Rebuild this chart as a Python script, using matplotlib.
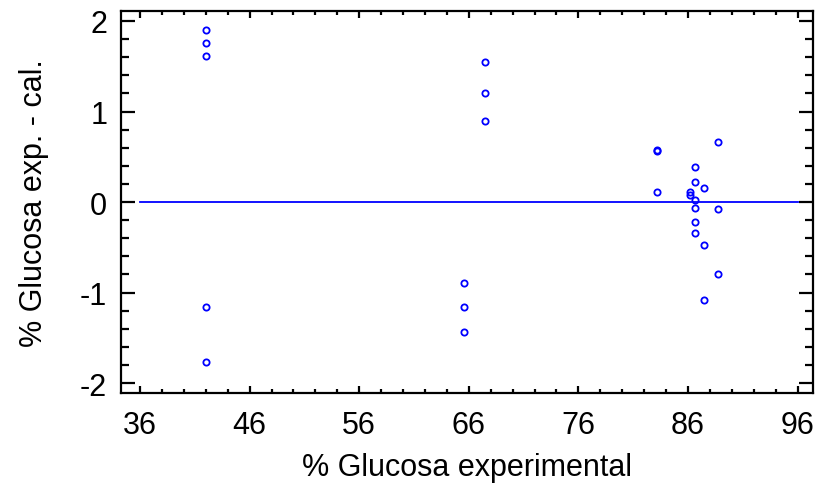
import numpy as np
import matplotlib.pyplot as plt
from matplotlib.ticker import MultipleLocator

plt.rcParams['font.family'] = ['Liberation Sans', 'DejaVu Sans']
plt.rcParams['axes.unicode_minus'] = False

# % glucosa experimental vs residual (exp - cal)
glucosa_exp = [42.0, 42.0, 42.0, 42.0, 42.0,
               65.6, 65.6, 65.6,
               67.5, 67.5, 67.5,
               83.2, 83.2, 83.2,
               86.2, 86.2,
               86.6, 86.6, 86.6, 86.6, 86.6, 86.6,
               87.5, 87.5, 87.5,
               88.7, 88.7, 88.7]
residuo = [1.90, 1.76, 1.61, -1.16, -1.77,
           -0.90, -1.16, -1.44,
           1.55, 1.20, 0.895,
           0.575, 0.565, 0.107,
           0.114, 0.08,
           0.383, 0.224, 0.025, -0.063, -0.225, -0.339,
           0.155, -0.47, -1.08,
           0.663, -0.074, -0.80]
linea_x = [36, 96]
linea_y = [0, 0]

fig = plt.figure(figsize=(8.15, 4.85), dpi=100)
ax = fig.add_axes([0.1485, 0.1876, 0.849, 0.7876])

ax.plot(linea_x, linea_y, color='blue', lw=1.3)
ax.plot(glucosa_exp, residuo, 'o', mfc='none', mec='blue', ms=4.5, mew=1.3)

ax.set_xlim(34.27, 97.4)
ax.set_ylim(-2.11, 2.11)
ax.xaxis.set_major_locator(MultipleLocator(10))
ax.xaxis.set_minor_locator(MultipleLocator(2))
ax.yaxis.set_major_locator(MultipleLocator(1))
ax.yaxis.set_minor_locator(MultipleLocator(0.2))
ax.set_xticks(np.arange(36, 97, 10))

for s in ax.spines.values():
    s.set_linewidth(1.6)

ax.tick_params(which='both', direction='in', top=True, right=True,
               labelsize=22, width=1.6)
ax.tick_params(axis='x', which='major', length=5, pad=12)
ax.tick_params(axis='x', which='minor', length=3)
ax.tick_params(axis='y', which='major', length=10, pad=10)
ax.tick_params(axis='y', which='minor', length=6)

ax.set_xlabel('% Glucosa experimental', fontsize=22, labelpad=9)
ax.set_ylabel('% Glucosa exp. - cal.', fontsize=22, labelpad=22)

fig.savefig('out.png', dpi=100)
